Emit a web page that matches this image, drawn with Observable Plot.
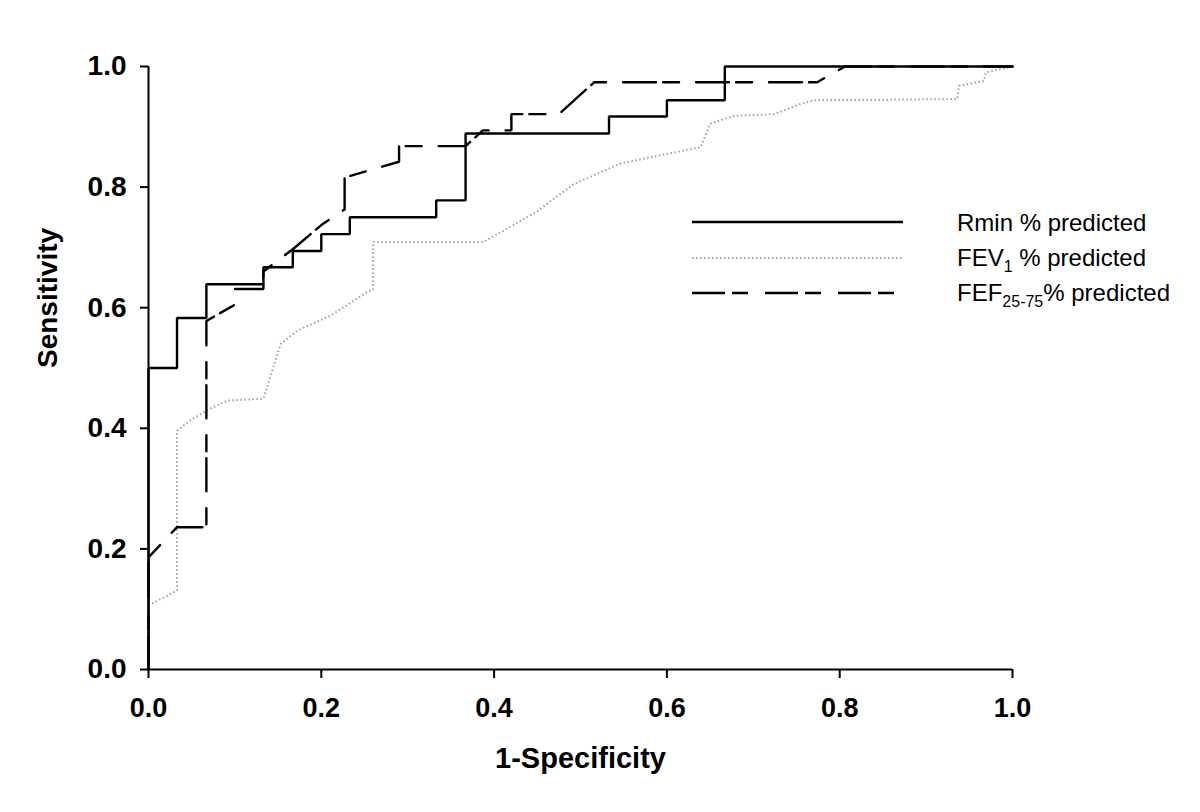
<!DOCTYPE html>
<html>
<head>
<meta charset="utf-8">
<script src="https://cdn.jsdelivr.net/npm/d3@7"></script>
<script src="https://cdn.jsdelivr.net/npm/@observablehq/plot@0.6"></script>
<style>
  html, body { margin: 0; padding: 0; background: #fff; }
  #wrap { position: relative; width: 1200px; height: 812px; font-family: "Liberation Sans", Arial, sans-serif; }
  #legend { position: absolute; left: 0; top: 0; width: 1200px; height: 812px; pointer-events: none; }
  .lt { position: absolute; left: 957px; font-size: 24px; color: #000; white-space: nowrap; line-height: 1; }
  .lt sub { font-size: 16px; vertical-align: -6px; line-height: 0; }
</style>
</head>
<body>
<div id="wrap"></div>
<script>
// ---- data ----
const ticks = [0, 0.2, 0.4, 0.6, 0.8, 1.0];
const xTitle = ["1-Specificity"];
const yTitle = ["Sensitivity"];

// Rmin % predicted (solid)
const rminX = [0, 0, 0.033, 0.033, 0.067, 0.067, 0.133, 0.133, 0.167, 0.167, 0.2, 0.2, 0.233, 0.233, 0.333, 0.333, 0.367, 0.367, 0.533, 0.533, 0.6, 0.6, 0.667, 0.667, 1];
const rminY = [0, 0.5, 0.5, 0.583, 0.583, 0.639, 0.639, 0.667, 0.667, 0.694, 0.694, 0.722, 0.722, 0.75, 0.75, 0.778, 0.778, 0.889, 0.889, 0.917, 0.917, 0.944, 0.944, 1, 1];

// FEV1 % predicted (dotted grey)
const fevX = [0, 0, 0.033, 0.033, 0.05, 0.068, 0.091, 0.133, 0.153, 0.172, 0.211, 0.253, 0.26, 0.26, 0.388, 0.394, 0.45, 0.492, 0.546, 0.6, 0.639, 0.65, 0.677, 0.724, 0.755, 0.77, 0.936, 0.938, 0.967, 0.969, 1];
const fevY = [0, 0.106, 0.131, 0.396, 0.415, 0.43, 0.446, 0.449, 0.54, 0.562, 0.587, 0.626, 0.63, 0.709, 0.709, 0.714, 0.76, 0.805, 0.839, 0.855, 0.866, 0.905, 0.918, 0.921, 0.938, 0.944, 0.946, 0.968, 0.976, 0.99, 1];

// FEF25-75 % predicted (long-short dashed)
const fefX = [0, 0, 0.033, 0.067, 0.067, 0.1, 0.1, 0.133, 0.133, 0.167, 0.2, 0.227, 0.227, 0.29, 0.29, 0.367, 0.387, 0.42, 0.42, 0.475, 0.516, 0.774, 0.806, 1];
const fefY = [0, 0.186, 0.236, 0.236, 0.578, 0.605, 0.631, 0.631, 0.66, 0.697, 0.737, 0.763, 0.816, 0.842, 0.868, 0.868, 0.894, 0.894, 0.921, 0.921, 0.974, 0.974, 1, 1];

const seriesNames = ["Rmin % predicted", "FEV1 % predicted", "FEF25-75 % predicted"];

// ---- build ----
const toRows = (xs, ys) => xs.map((x, i) => ({x, y: ys[i]}));
const rmin = toRows(rminX, rminY);
const fev = toRows(fevX, fevY);
const fef = toRows(fefX, fefY);

const styles = {
  rmin: {stroke: "#000", strokeWidth: 2.4, dash: null},
  fev: {stroke: "#a0a0a0", strokeWidth: 2, dash: "1.5,2.5"},
  fef: {stroke: "#000", strokeWidth: 2.4, dash: "33,7,16,17"}
};

const font = "Liberation Sans, Arial, sans-serif";

const chart = Plot.plot({
  width: 1200,
  height: 812,
  marginLeft: 148,
  marginRight: 188,
  marginTop: 66,
  marginBottom: 143,
  style: {fontFamily: font, color: "#000", background: "#fff", overflow: "visible"},
  x: {domain: [0, 1]},
  y: {domain: [0, 1]},
  marks: [
    Plot.line(fev, {x: "x", y: "y", stroke: styles.fev.stroke, strokeWidth: styles.fev.strokeWidth, strokeDasharray: styles.fev.dash, strokeLinecap: "butt"}),
    Plot.line(fef, {x: "x", y: "y", stroke: styles.fef.stroke, strokeWidth: styles.fef.strokeWidth, strokeDasharray: styles.fef.dash, strokeLinejoin: "miter"}),
    Plot.line(rmin, {x: "x", y: "y", stroke: styles.rmin.stroke, strokeWidth: styles.rmin.strokeWidth, strokeLinejoin: "miter"}),
    Plot.ruleX([0], {stroke: "#000", strokeWidth: 2}),
    Plot.ruleY([0], {stroke: "#000", strokeWidth: 2}),
    Plot.axisX({ticks, tickFormat: d3.format(".1f"), tickSize: 9, tickPadding: 19, strokeWidth: 2,
      fontSize: 27, fontWeight: "bold", fontFamily: font, label: null}),
    Plot.axisY({ticks, tickFormat: d3.format(".1f"), tickSize: 8, tickPadding: 14, strokeWidth: 2,
      fontSize: 28, fontWeight: "bold", fontFamily: font, label: null}),
    Plot.text(xTitle, {text: d => d, frameAnchor: "bottom", dy: 98, fontSize: 29, fontWeight: "bold", fontFamily: font, fill: "#000"}),
    Plot.text(yTitle, {text: d => d, frameAnchor: "left", dx: -100, rotate: -90, fontSize: 28, fontWeight: "bold", fontFamily: font, fill: "#000"})
  ]
});

const wrap = document.getElementById("wrap");
wrap.appendChild(chart);

// ---- legend (overlay) ----
const legend = document.createElement("div");
legend.id = "legend";
const svgNS = "http://www.w3.org/2000/svg";
const lsvg = document.createElementNS(svgNS, "svg");
lsvg.setAttribute("width", 1200);
lsvg.setAttribute("height", 812);
lsvg.style.position = "absolute";
lsvg.style.left = "0"; lsvg.style.top = "0";
const legendKeys = ["rmin", "fev", "fef"];
const legendY = [222, 258, 293];
legendKeys.forEach((k, i) => {
  const l = document.createElementNS(svgNS, "line");
  l.setAttribute("x1", 692); l.setAttribute("x2", 903);
  l.setAttribute("y1", legendY[i]); l.setAttribute("y2", legendY[i]);
  l.setAttribute("stroke", styles[k].stroke);
  l.setAttribute("stroke-width", styles[k].strokeWidth);
  if (styles[k].dash) l.setAttribute("stroke-dasharray", styles[k].dash);
  lsvg.appendChild(l);
});
legend.appendChild(lsvg);
const legendHtml = [
  "Rmin % predicted",
  "FEV<sub>1</sub> % predicted",
  "FEF<sub>25-75</sub>% predicted"
];
const legendTop = [211, 246, 281];
legendHtml.forEach((h, i) => {
  const d = document.createElement("div");
  d.className = "lt";
  d.style.top = legendTop[i] + "px";
  d.innerHTML = h;
  legend.appendChild(d);
});
wrap.appendChild(legend);
</script>
</body>
</html>
